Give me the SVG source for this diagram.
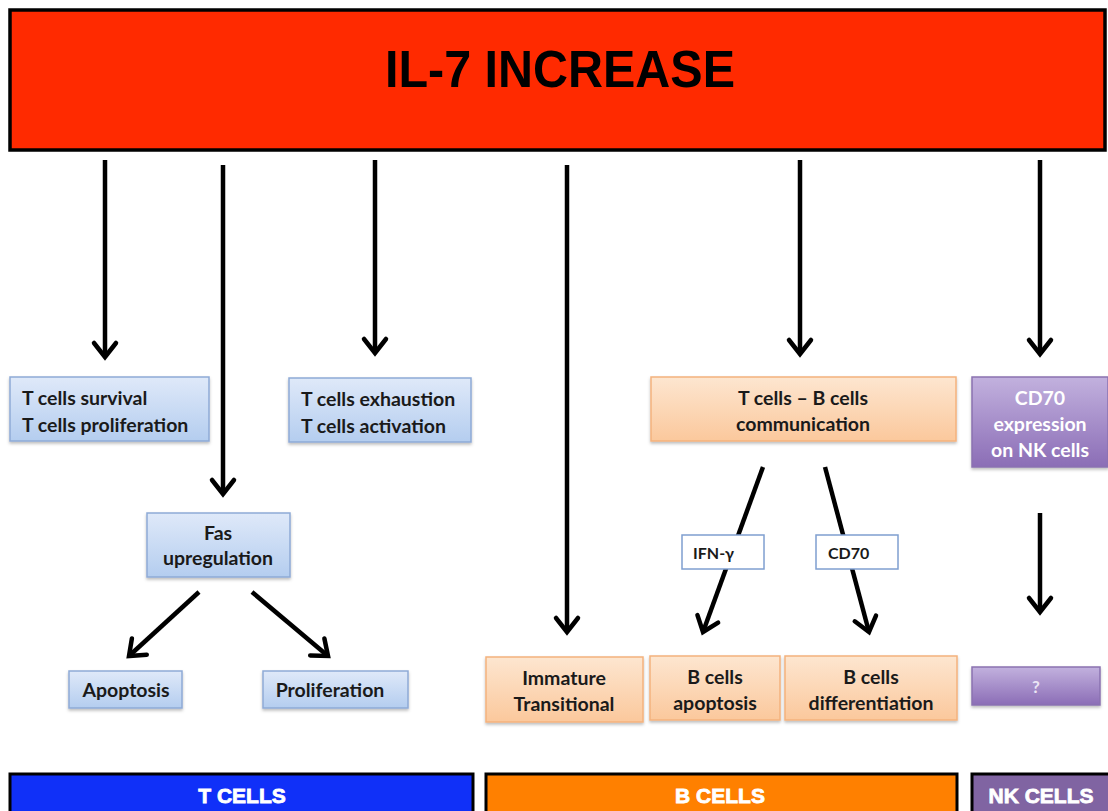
<svg xmlns="http://www.w3.org/2000/svg" width="1108" height="811" viewBox="0 0 1108 811">
<defs>
<linearGradient id="gBlue" x1="0" y1="0" x2="0" y2="1"><stop offset="0" stop-color="#dfe9f9"/><stop offset="1" stop-color="#b4cdef"/></linearGradient>
<linearGradient id="gOrange" x1="0" y1="0" x2="0" y2="1"><stop offset="0" stop-color="#fde6d0"/><stop offset="1" stop-color="#fbc89c"/></linearGradient>
<linearGradient id="gPurple" x1="0" y1="0" x2="0" y2="1"><stop offset="0" stop-color="#c2b1de"/><stop offset="1" stop-color="#8b6db6"/></linearGradient>
<filter id="sh" x="-10%" y="-10%" width="120%" height="130%"><feDropShadow dx="0" dy="2" stdDeviation="1.5" flood-color="#000" flood-opacity="0.25"/></filter>
<marker id="ah" markerUnits="userSpaceOnUse" viewBox="-20 -16 24 32" refX="0" refY="0" markerWidth="24" markerHeight="32" orient="auto">
<path d="M-14,-11 L0,0 L-14,11" fill="none" stroke="#000" stroke-width="4.5" stroke-linejoin="miter" stroke-linecap="round"/>
</marker>
</defs>
<style>
.t{font-family:"Lato","Liberation Sans",sans-serif;font-weight:700;fill:#1a1a1a;font-size:19.5px;}
.s{font-size:16px;}
.m{text-anchor:middle;}
.wt{fill:#fff;}
.b{fill:url(#gBlue);stroke:#8eaad6;stroke-width:1.5;filter:url(#sh);}
.o{fill:url(#gOrange);stroke:#f4b27d;stroke-width:1.5;filter:url(#sh);}
.p{fill:url(#gPurple);stroke:#8a72b0;stroke-width:1.5;filter:url(#sh);}
.w{fill:#fff;stroke:#7f9fd0;stroke-width:1.5;}
.bar{stroke:#000;stroke-width:3;}
.bt{font-family:"Liberation Sans",Arial,sans-serif;font-weight:700;font-size:21px;fill:#fff;stroke:#fff;stroke-width:0.8;text-anchor:middle;}
.ln{fill:none;stroke:#000;stroke-width:4.5;marker-end:url(#ah);}
</style>
<rect width="1108" height="811" fill="#fff"/>

<g id="il7">
<rect x="10" y="10" width="1095" height="140" fill="#ff2a00" stroke="#000" stroke-width="3.5"/>
<text x="560" y="87" font-family="Liberation Sans,Arial,sans-serif" font-weight="700" font-size="51" text-anchor="middle" fill="#000" textLength="350" lengthAdjust="spacingAndGlyphs">IL-7 INCREASE</text>
</g>

<g id="connectors">
<line class="ln" x1="105" y1="160" x2="105" y2="357"/>
<line class="ln" x1="223" y1="165" x2="223" y2="494"/>
<line class="ln" x1="375" y1="160" x2="375" y2="353"/>
<line class="ln" x1="567" y1="165" x2="567" y2="632"/>
<line class="ln" x1="800" y1="160" x2="800" y2="354"/>
<line class="ln" x1="1040" y1="160" x2="1040" y2="354"/>
<line class="ln" x1="1040" y1="513" x2="1040" y2="612"/>
<line class="ln" x1="199" y1="592" x2="129" y2="656"/>
<line class="ln" x1="252" y1="592" x2="328" y2="656"/>
<line class="ln" x1="763" y1="467" x2="703" y2="632"/>
<line class="ln" x1="825" y1="467" x2="869" y2="632"/>
</g>

<g id="t-survival">
<rect class="b" x="10" y="377" width="199" height="64"/>
<text class="t" x="22" y="405">T cells survival</text>
<text class="t" x="22" y="432">T cells proliferation</text>
</g>

<g id="t-exhaustion">
<rect class="b" x="289" y="378" width="182" height="64"/>
<text class="t" x="301" y="406">T cells exhaustion</text>
<text class="t" x="301" y="433">T cells activation</text>
</g>

<g id="fas">
<rect class="b" x="147" y="513" width="143" height="64"/>
<text class="t m" x="218" y="540">Fas</text>
<text class="t m" x="218" y="565">upregulation</text>
</g>

<g id="apoptosis">
<rect class="b" x="69" y="671" width="113" height="37"/>
<text class="t m" x="126" y="697">Apoptosis</text>
</g>

<g id="proliferation">
<rect class="b" x="263" y="671" width="145" height="37"/>
<text class="t m" x="330" y="697">Proliferation</text>
</g>

<g id="tb-comm">
<rect class="o" x="651" y="377" width="305" height="64"/>
<text class="t m" x="803" y="405">T cells – B cells</text>
<text class="t m" x="803" y="431">communication</text>
</g>

<g id="cd70-nk">
<rect class="p" x="972" y="377" width="136" height="90"/>
<text class="t m wt" x="1040" y="405">CD70</text>
<text class="t m wt" x="1040" y="431">expression</text>
<text class="t m wt" x="1040" y="457">on NK cells</text>
</g>

<g id="ifn">
<rect class="w" x="682" y="535" width="82" height="34"/>
<text class="t s" x="693" y="559">IFN-γ</text>
</g>

<g id="cd70">
<rect class="w" x="816" y="535" width="82" height="34"/>
<text class="t s" x="828" y="559">CD70</text>
</g>

<g id="immature">
<rect class="o" x="486" y="657" width="157" height="65"/>
<text class="t m" x="564" y="685">Immature</text>
<text class="t m" x="564" y="711">Transitional</text>
</g>

<g id="b-apoptosis">
<rect class="o" x="650" y="656" width="130" height="64"/>
<text class="t m" x="715" y="684">B cells</text>
<text class="t m" x="715" y="710">apoptosis</text>
</g>

<g id="b-diff">
<rect class="o" x="785" y="656" width="172" height="64"/>
<text class="t m" x="871" y="684">B cells</text>
<text class="t m" x="871" y="710">differentiation</text>
</g>

<g id="unknown">
<rect class="p" x="972" y="667" width="128" height="38"/>
<text class="t m" x="1036" y="693" style="fill:#ece6f5;font-size:17px">?</text>
</g>

<g id="bar-t">
<rect class="bar" x="10" y="774" width="463" height="45" fill="#1030f8"/>
<text class="bt" x="242" y="803">T CELLS</text>
</g>
<g id="bar-b">
<rect class="bar" x="486" y="774" width="471" height="45" fill="#ff8000"/>
<text class="bt" x="720" y="803">B CELLS</text>
</g>
<g id="bar-nk">
<rect class="bar" x="972" y="774" width="140" height="45" fill="#8064a2"/>
<text class="bt" x="1041" y="803">NK CELLS</text>
</g>
</svg>
